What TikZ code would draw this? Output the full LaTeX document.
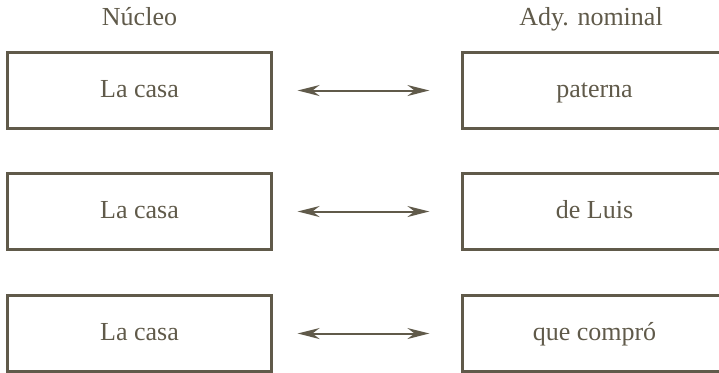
\documentclass[tikz,border=0pt]{standalone}
\usepackage{fontspec}
\setmainfont{Liberation Serif}
\definecolor{ink}{RGB}{96,90,74}
\usetikzlibrary{arrows.meta,positioning}

\begin{document}
\begin{tikzpicture}[x=0.5pt,y=-0.5pt,
    every node/.style={text=ink,font=\fontsize{13}{15}\selectfont,text height=1.75ex,text depth=0.3ex},
    frase/.style={draw=ink,line width=1.1pt,minimum width=132pt,minimum height=38pt,inner sep=0pt},
    rel/.style={draw=ink,line width=1pt,{Stealth[length=11pt,width=5.5pt]}-{Stealth[length=11pt,width=5.5pt]},shorten <=12.5pt,shorten >=16pt}]
    \useasboundingbox (0,0) rectangle (719,372);

    \node (nucleo) at (139.5,19) {Núcleo};
    \node (ady) at (591,19) {Ady. nominal};

    \foreach \n/\y/\txt in {1/90.5/paterna,2/211.5/de Luis,3/333.5/que compró}{
        \node[frase] (n\n) at (139.5,\y) {La casa};
        \node[frase] (a\n) at (594.5,\y) {\txt};
        \draw[rel] (n\n) -- (a\n);
    }
\end{tikzpicture}
\end{document}
